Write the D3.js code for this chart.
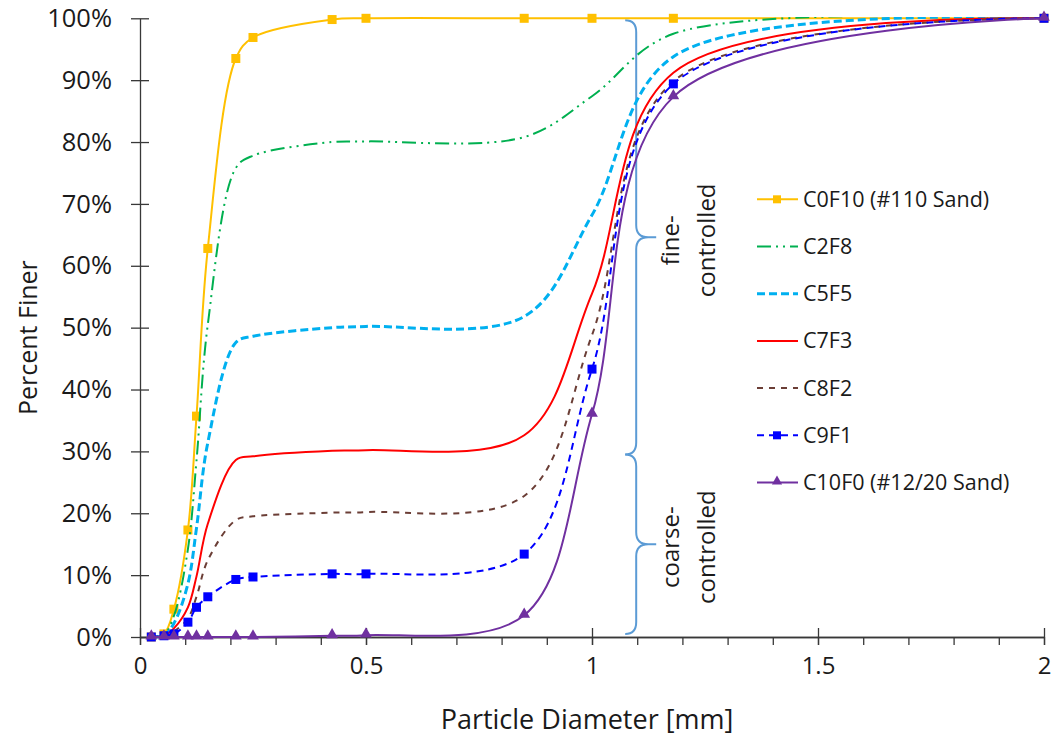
<!DOCTYPE html>
<html>
<head>
<meta charset="utf-8">
<script src="https://cdn.jsdelivr.net/npm/d3@7"></script>
<style>
  body { margin: 0; background: #fff; }
  text { font-family: "Open Sans", Lato, sans-serif; fill: #1a1a1a; }
</style>
</head>
<body>
<script>
'use strict';

// sieve openings [mm] and percent finer for each blend
const sieves = [0.025, 0.053, 0.075, 0.106, 0.125, 0.15, 0.212, 0.25, 0.425, 0.5, 0.85, 1.0, 1.18, 2.0];

const c0f10 = [0, 0.5, 4.5, 17.3, 35.7, 62.8, 93.5, 96.9, 99.8, 100, 100, 100, 100, 100];
const c2f8  = [0, 0.4, 3.4, 14.2, 28.5, 50.5, 75.8, 77.8, 80.0, 80.1, 80.8, 87.4, 97.5, 100];
const c5f5  = [0, 0.3, 2.2, 8.6, 17.6, 31.4, 47.6, 48.6, 50.0, 50.2, 51.8, 68.2, 93.8, 100];
const c7f3  = [0, 0.2, 1.4, 4.8, 9.8, 18.3, 28.6, 29.2, 30.1, 30.2, 32.6, 55.5, 91.2, 100];
const c8f2  = [0, 0.2, 0.9, 3.0, 6.5, 12.4, 18.9, 19.5, 20.1, 20.2, 22.8, 48.8, 89.8, 100];
const c9f1  = [0, 0.2, 0.5, 2.4, 4.8, 6.5, 9.3, 9.7, 10.2, 10.2, 13.4, 43.3, 89.4, 100];
const c10f0 = [0, 0, 0, 0, 0, 0, 0, 0, 0.2, 0.3, 3.5, 36.0, 87.3, 100];

const seriesNames = ['C0F10 (#110 Sand)', 'C2F8', 'C5F5', 'C7F3', 'C8F2', 'C9F1', 'C10F0 (#12/20 Sand)'];
const seriesValues = [c0f10, c2f8, c5f5, c7f3, c8f2, c9f1, c10f0];

const xTicks = [0, 0.5, 1, 1.5, 2];
const xMinorTicks = d3.range(0, 21).map(i => i / 10);
const yTicks = [0, 10, 20, 30, 40, 50, 60, 70, 80, 90, 100];

// brace splitting the fine- and coarse-controlled ranges
const braceX = 1.1;
const braceBounds = [0.5, 29.5, 99.7];
const braceLabels = [['coarse-', 'controlled'], ['fine-', 'controlled']];

const styles = [
  { color: '#FFC000', width: 2,   dash: null,              marker: 'square' },
  { color: '#00B050', width: 2,   dash: '14 5 2 5 2 5',    marker: null },
  { color: '#00B0F0', width: 3,   dash: '8 4',             marker: null },
  { color: '#FF0000', width: 2,   dash: null,              marker: null },
  { color: '#6B3E36', width: 2,   dash: '6 6',             marker: null },
  { color: '#0000FF', width: 2,   dash: '7 5',             marker: 'square' },
  { color: '#7030A0', width: 2,   dash: null,              marker: 'triangle' }
];

const W = 1055, H = 736;
const x = d3.scaleLinear().domain([0, 2]).range([140, 1044]);
const y = d3.scaleLinear().domain([0, 100]).range([637, 18.3]);

const svg = d3.select('body').append('svg')
  .attr('width', W)
  .attr('height', H);

// plot area clip so smoothed lines stop at 100%
svg.append('clipPath').attr('id', 'plot')
  .append('rect')
  .attr('x', x(0) - 10).attr('y', y(100) - 1.2)
  .attr('width', x(2) - x(0) + 20).attr('height', y(0) - y(100) + 12);

const axisColor = '#383838';

// y axis, ticks crossing the line
const yAxis = svg.append('g')
  .attr('transform', 'translate(' + x(0) + ',0)')
  .call(d3.axisLeft(y).tickValues(yTicks).tickFormat(d => d + '%').tickSize(9).tickSizeOuter(0).tickPadding(19));
yAxis.selectAll('.tick line').attr('x1', 9);
yAxis.selectAll('.tick text').attr('font-size', 25.5);

// x axis: minor ticks every 0.1, crossing major ticks every 0.5
svg.append('g')
  .attr('transform', 'translate(0,' + y(0) + ')')
  .call(d3.axisBottom(x).tickValues(xMinorTicks).tickFormat('').tickSize(8).tickSizeOuter(0));

const xAxis = svg.append('g')
  .attr('transform', 'translate(0,' + y(0) + ')')
  .call(d3.axisBottom(x).tickValues(xTicks).tickFormat(d3.format('')).tickSize(8).tickSizeOuter(0).tickPadding(12));
xAxis.selectAll('.tick line').attr('y1', -9);
xAxis.selectAll('.tick text').attr('font-size', 24);

svg.selectAll('.domain, .tick line')
  .attr('stroke', axisColor)
  .attr('stroke-width', 1.3);
svg.selectAll('.tick text')
  .attr('font-family', '"Open Sans", Lato, sans-serif')
  .attr('fill', '#1a1a1a');

// axis titles
svg.append('text')
  .attr('x', (x(0) + x(2)) / 2 - 5)
  .attr('y', 729)
  .attr('text-anchor', 'middle')
  .attr('font-size', 27)
  .text('Particle Diameter [mm]');

svg.append('text')
  .attr('transform', 'translate(37,' + ((y(0) + y(100)) / 2 + 10) + ') rotate(-90)')
  .attr('text-anchor', 'middle')
  .attr('font-size', 25)
  .text('Percent Finer');

// brace and its labels
const bx = x(braceX) - 1;
const braceColor = '#5B9BD5';
function bracePath(yTop, yBot) {
  const ym = (yTop + yBot) / 2;
  const r = 12, w = 11, c = 20;
  return 'M' + (bx - w) + ',' + yTop +
    'Q' + bx + ',' + yTop + ' ' + bx + ',' + (yTop + r) +
    'L' + bx + ',' + (ym - r) +
    'Q' + bx + ',' + ym + ' ' + (bx + r) + ',' + ym +
    'L' + (bx + c) + ',' + ym +
    'M' + (bx + r) + ',' + ym +
    'Q' + bx + ',' + ym + ' ' + bx + ',' + (ym + r) +
    'L' + bx + ',' + (yBot - r) +
    'Q' + bx + ',' + yBot + ' ' + (bx - w) + ',' + yBot;
}

for (let i = 0; i < 2; i++) {
  const yBot = y(braceBounds[i]);
  const yTop = y(braceBounds[i + 1]);
  const ym = (yTop + yBot) / 2;
  svg.append('path')
    .attr('d', bracePath(yTop, yBot))
    .attr('fill', 'none')
    .attr('stroke', braceColor)
    .attr('stroke-width', 2);

  braceLabels[i].forEach((label, j) => {
    svg.append('text')
      .attr('transform', 'translate(' + (bx + 43 + j * 36) + ',' + (ym + 3) + ') rotate(-90)')
      .attr('text-anchor', 'middle')
      .attr('font-size', 24)
      .text(label);
  });
}

// curves
const line = d3.line()
  .x(d => x(d[0]))
  .y(d => y(d[1]))
  .curve(d3.curveCatmullRom.alpha(0.5));

const triangle = d3.symbol().type(d3.symbolTriangle).size(60);

function drawMarkers(g, pts, st) {
  if (st.marker === 'square') {
    g.selectAll('rect.m').data(pts).enter().append('rect')
      .attr('class', 'm')
      .attr('x', d => x(d[0]) - 4.5)
      .attr('y', d => y(d[1]) - 4.5)
      .attr('width', 9)
      .attr('height', 9)
      .attr('fill', st.color);
  } else if (st.marker === 'triangle') {
    g.selectAll('path.m').data(pts).enter().append('path')
      .attr('class', 'm')
      .attr('d', triangle)
      .attr('transform', d => 'translate(' + x(d[0]) + ',' + (y(d[1]) - 1) + ')')
      .attr('fill', st.color);
  }
}

seriesValues.forEach((vals, i) => {
  const st = styles[i];
  const pts = sieves.map((s, k) => [s, vals[k]]);
  const g = svg.append('g');
  g.append('path')
    .attr('d', line(pts))
    .attr('clip-path', 'url(#plot)')
    .attr('fill', 'none')
    .attr('stroke', st.color)
    .attr('stroke-width', st.width)
    .attr('stroke-dasharray', st.dash);
  drawMarkers(g, pts, st);
});

// legend
const legend = svg.append('g');
seriesNames.forEach((name, i) => {
  const st = styles[i];
  const ly = 199.3 + i * 47.2;
  const item = legend.append('g');
  item.append('line')
    .attr('x1', 757).attr('x2', 798)
    .attr('y1', ly).attr('y2', ly)
    .attr('stroke', st.color)
    .attr('stroke-width', st.width)
    .attr('stroke-dasharray', st.dash);
  if (st.marker === 'square') {
    item.append('rect')
      .attr('x', 773).attr('y', ly - 4)
      .attr('width', 8).attr('height', 8)
      .attr('fill', st.color);
  } else if (st.marker === 'triangle') {
    item.append('path')
      .attr('d', d3.symbol().type(d3.symbolTriangle).size(45))
      .attr('transform', 'translate(777,' + (ly - 1) + ')')
      .attr('fill', st.color);
  }
  item.append('text')
    .attr('x', 803)
    .attr('y', ly + 7.5)
    .attr('font-size', 21.5)
    .text(name);
});
</script>
</body>
</html>
